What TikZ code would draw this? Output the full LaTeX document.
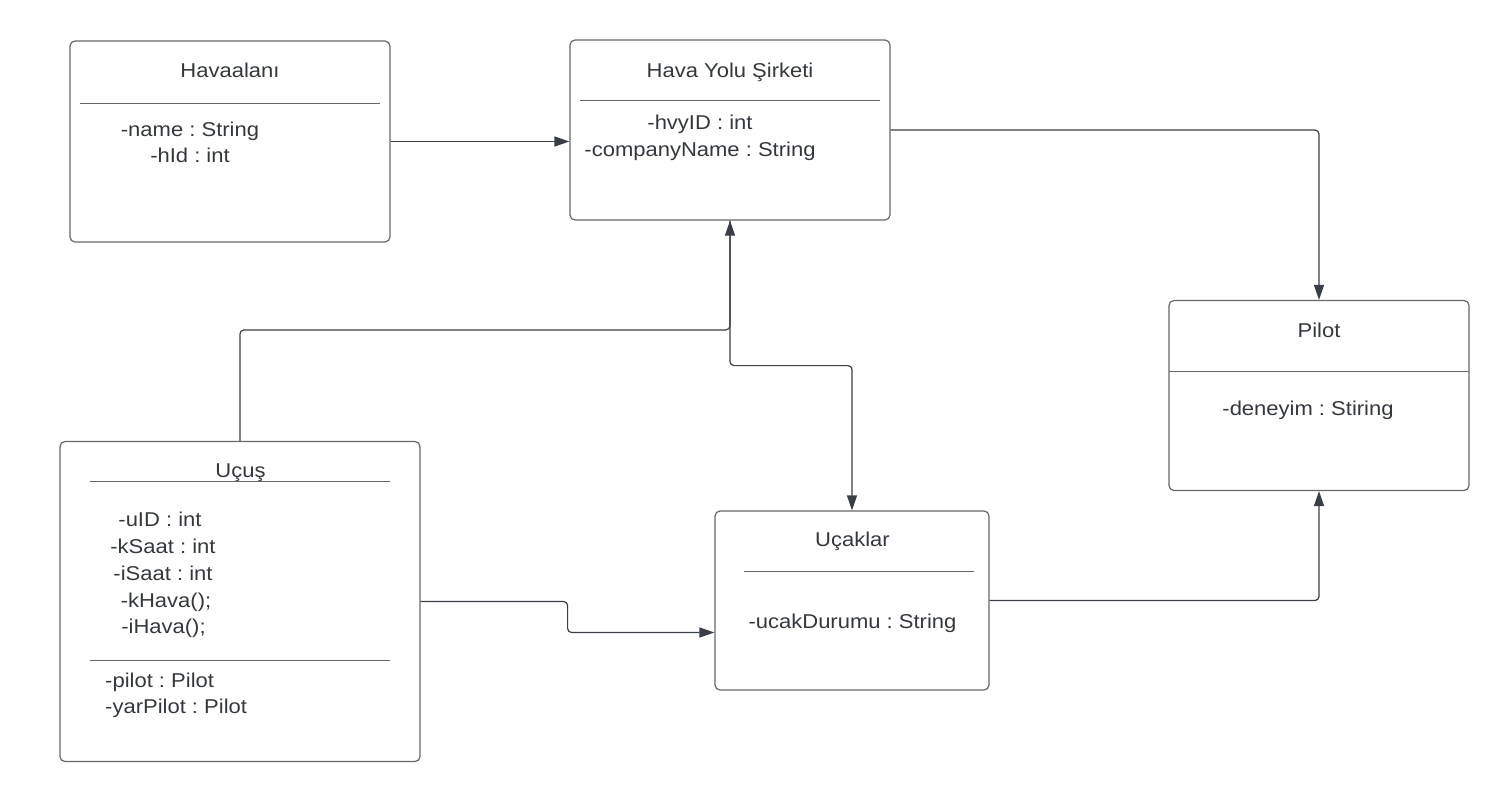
\documentclass[tikz,border=0pt]{standalone}
\usepackage{fontspec}
\setmainfont[FakeStretch=1.1]{Liberation Sans}
\usetikzlibrary{arrows.meta}
\definecolor{umlline}{RGB}{58,62,70}
\definecolor{umlborder}{RGB}{100,103,108}
\definecolor{umltext}{RGB}{52,56,62}
\frenchspacing
\begin{document}
\begin{tikzpicture}[x=1pt,y=-1pt,
  umlbox/.style={draw=umlborder,line width=1.2pt,rounded corners=5pt,inner sep=0pt},
  sepline/.style={draw=umlborder,line width=0.9pt},
  txt/.style={anchor=base,inner sep=0pt,text=umltext,font=\fontsize{20}{24}\selectfont},
  conn/.style={draw=umlline,line width=1.2pt,rounded corners=4pt,-{Triangle[length=15pt,width=10pt]}}]
\useasboundingbox (0,0) rectangle (1510,801);
\node at (230,141.5) [umlbox,minimum width=320pt,minimum height=201pt] (havaalani) {};
\node at (730,130) [umlbox,minimum width=320pt,minimum height=180pt] (hvyolu) {};
\node at (1319,395.5) [umlbox,minimum width=300pt,minimum height=190pt] (pilot) {};
\node at (240,601.5) [umlbox,minimum width=360pt,minimum height=320pt] (ucus) {};
\node at (852,600.5) [umlbox,minimum width=274pt,minimum height=179pt] (ucaklar) {};
\draw[sepline] (80,103) -- (380,103);
\draw[sepline] (580,100.5) -- (880,100.5);
\draw[sepline] (1169,371) -- (1469,371);
\draw[sepline] (90,481.5) -- (390,481.5);
\draw[sepline] (90,660) -- (390,660);
\draw[sepline] (744,571) -- (974,571);
\node at (230,77) [txt] (havaalanit) {Havaalanı};
\node at (190,136) [txt] (havname) {-name : String};
\node at (190,162) [txt] (havid) {-hId : int};
\node at (730,77) [txt] (hvyolut) {Hava Yolu Şirketi};
\node at (700,129) [txt] (hvyid) {-hvyID : int};
\node at (700,156) [txt] (hvyname) {-companyName : String};
\node at (1319,337) [txt] (pilott) {Pilot};
\node at (1308,415) [txt] (pildeneyim) {-deneyim : Stiring};
\node at (240.5,477) [txt] (ucust) {Uçuş};
\node at (160,526) [txt] (ucusid) {-uID : int};
\node at (163,553) [txt] (ucusksaat) {-kSaat : int};
\node at (163,580) [txt] (ucusisaat) {-iSaat : int};
\node at (166,607) [txt] (ucuskhava) {-kHava();};
\node at (163.5,633) [txt] (ucusihava) {-iHava();};
\node at (105,687) [txt,anchor=base west] (ucuspilot) {-pilot : Pilot};
\node at (105,713) [txt,anchor=base west] (ucusyar) {-yarPilot : Pilot};
\node at (852.5,546) [txt] (ucaklart) {Uçaklar};
\node at (852.5,628) [txt] (ucakdurum) {-ucakDurumu : String};
\draw[conn] (havaalani.east) -- (hvyolu.west |- havaalani.east);
\draw[conn] (hvyolu.east) -| (pilot.north);
\draw[conn] (ucus.north) -- ++(0,-111) -| (hvyolu.south);
\draw[conn] (hvyolu.south) -- ++(0,145) -| (ucaklar.north);
\draw[conn] (ucus.east) -- ++(147,0) -- ++(0,31) -- (ucaklar.west |- 0,632.5);
\draw[conn] (ucaklar.east) -| (pilot.south);
\end{tikzpicture}
\end{document}
